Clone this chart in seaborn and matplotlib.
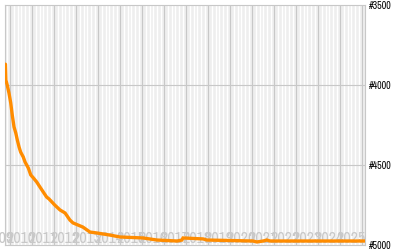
import numpy as np
import pandas as pd
import matplotlib
matplotlib.use("Agg")
import matplotlib.pyplot as plt
import seaborn as sns
from matplotlib import font_manager

# ---- data (decimal year, rank) ----
years = [2009.78, 2009.80, 2009.86, 2009.94, 2010.02, 2010.09, 2010.17, 2010.25,
         2010.32, 2010.40, 2010.47, 2010.59, 2010.67, 2010.82, 2010.93, 2011.05,
         2011.20, 2011.35, 2011.50, 2011.65, 2011.76, 2012.02, 2012.26, 2012.49,
         2012.71, 2012.85, 2013.30, 2013.62, 2013.94, 2014.53, 2014.99, 2016.03,
         2016.67, 2017.58, 2017.80, 2017.85, 2018.76, 2018.94, 2021.03, 2021.21,
         2021.49, 2021.67, 2021.80, 2026.12]
ranks = [3870, 3969, 4000, 4050, 4112, 4188, 4262, 4300,
         4344, 4388, 4419, 4450, 4481, 4519, 4562, 4581,
         4606, 4638, 4669, 4700, 4712, 4750, 4781, 4800,
         4844, 4862, 4888, 4919, 4925, 4938, 4950, 4956,
         4969, 4975, 4969, 4956, 4962, 4969, 4975, 4981,
         4975, 4969, 4975, 4975]
year_labels = [str(y) for y in range(2009, 2026)]
rank_ticks = [3500, 4000, 4500, 5000]
rank_labels = ["#3500", "#4000", "#4500", "#5000"]

df = pd.DataFrame({"year": years, "rank": ranks})

sns.set_style("white")

# look for a narrow / condensed font file
narrow_fp = None
for f in font_manager.fontManager.ttflist:
    if "Narrow" in f.name and "Bold" not in f.fname and "Italic" not in f.fname:
        narrow_fp = font_manager.FontProperties(fname=f.fname)
        break
if narrow_fp is None:
    for f in font_manager.fontManager.ttflist:
        fn = f.fname
        if "Condensed" in fn and "Sans" in fn and "Bold" not in fn and "Oblique" not in fn:
            narrow_fp = font_manager.FontProperties(fname=fn)
            break
plt.rcParams["font.family"] = ["DejaVu Sans"]

fig = plt.figure(figsize=(4, 2.5), dpi=100)
ax = fig.add_axes([5 / 400, 5 / 250, 360 / 400, 240 / 250])
ax.set_facecolor("#eeeeee")

x0, x1 = 2009.76, 2026.12
ax.set_xlim(x0, x1)
ax.set_ylim(5000, 3500)

# minor white stripes
for y in range(2009, 2027):
    for k in range(1, 6):
        xm = y + k / 6
        if x0 < xm < x1:
            ax.axvline(xm, color="white", lw=1.0, zorder=0.5)
# major gridlines
for y in range(2010, 2027):
    ax.axvline(y, color="#c8c8c8", lw=0.8, zorder=1)
for r in [4000, 4500]:
    ax.axhline(r, color="#c8c8c8", lw=0.8, zorder=1)


def fprops(size):
    if narrow_fp is not None:
        p = narrow_fp.copy()
        p.set_size(size)
        return p
    return font_manager.FontProperties(family="DejaVu Sans", size=size)


ysize_year = 11.5 if narrow_fp is not None else 8.6
ysize_tick = 7.2 if narrow_fp is not None else 5.4

# year labels
for lab in year_labels:
    yv = int(lab) + 0.5
    ax.text(yv, 4988, lab, ha="center", va="baseline", fontproperties=fprops(ysize_year),
            color="#c8c8c8", zorder=2, clip_on=False)

sns.lineplot(data=df, x="year", y="rank", ax=ax, color="#ff8c00", lw=2.4,
             zorder=3, solid_joinstyle="miter")

ax.set_xticks([])
ax.yaxis.tick_right()
ax.set_yticks(rank_ticks)
ax.set_yticklabels(rank_labels, color="black")
for t in ax.get_yticklabels():
    t.set_fontproperties(fprops(ysize_tick))
ax.tick_params(axis="y", length=0, pad=3)
ax.set_xlabel("")
ax.set_ylabel("")
for s in ax.spines.values():
    s.set_color("#c8c8c8")
    s.set_linewidth(0.8)

fig.savefig("out.png", dpi=100)
